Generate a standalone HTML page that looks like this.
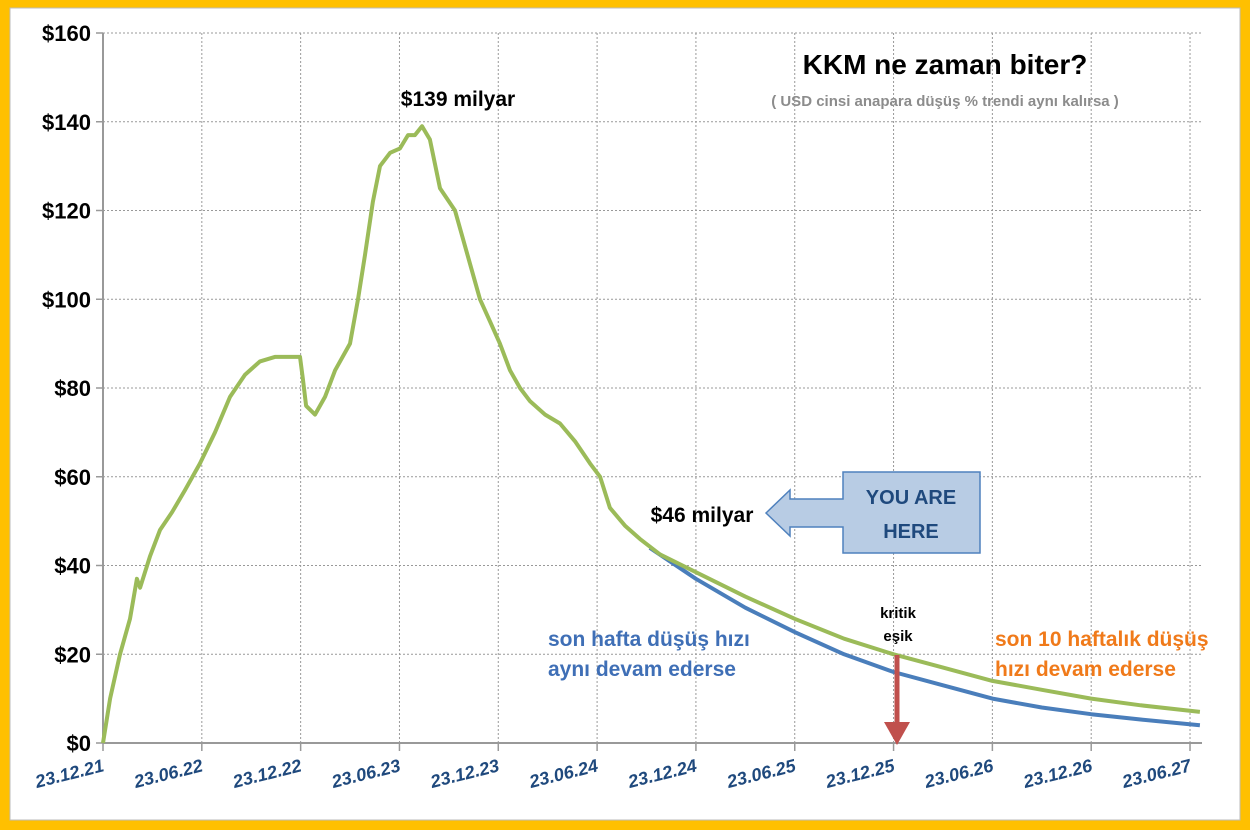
<!DOCTYPE html>
<html><head><meta charset="utf-8"><style>
html,body{margin:0;padding:0;background:#fff}
svg{display:block}
text{font-family:"Liberation Sans",sans-serif}
</style></head><body>
<svg id="chart" width="1250" height="830" viewBox="0 0 1250 830" xmlns="http://www.w3.org/2000/svg">
<rect x="0" y="0" width="1250" height="830" fill="#FFC000"/>
<rect x="10" y="8" width="1230" height="812" fill="#fff" stroke="#bbb"/>
<g id="grid"></g>
<g id="axes"></g>
<g id="series"></g>
<text x="945" y="74" text-anchor="middle" font-size="28" font-weight="bold" fill="#000">KKM ne zaman biter?</text>
<text x="945" y="106" text-anchor="middle" font-size="15" font-weight="bold" fill="#8c8c8c">( USD cinsi anapara düşüş  % trendi aynı kalırsa )</text>
<text x="458" y="106" text-anchor="middle" font-size="21" font-weight="bold" fill="#000">$139 milyar</text>
<text x="702" y="522" text-anchor="middle" font-size="21" font-weight="bold" fill="#000">$46 milyar</text>
<path d="M766,513 L790,490 L790,499 L843,499 L843,472 L980,472 L980,553 L843,553 L843,527 L790,527 L790,536 Z" fill="#b8cce4" stroke="#4f81bd" stroke-width="1.5"/>
<text x="911" y="504" text-anchor="middle" font-size="20" font-weight="bold" fill="#1f497d">YOU ARE</text>
<text x="911" y="538" text-anchor="middle" font-size="20" font-weight="bold" fill="#1f497d">HERE</text>
<text x="898" y="618" text-anchor="middle" font-size="15" font-weight="bold" fill="#000">kritik</text>
<text x="898" y="641" text-anchor="middle" font-size="15" font-weight="bold" fill="#000">eşik</text>
<line x1="897" y1="655" x2="897" y2="728" stroke="#c0504d" stroke-width="5"/>
<path d="M884,722 L910,722 L897,745 Z" fill="#c0504d"/>
<text x="548" y="646" font-size="21" font-weight="bold" fill="#3f6fb6">son hafta düşüş hızı</text>
<text x="548" y="676" font-size="21" font-weight="bold" fill="#3f6fb6">aynı devam ederse</text>
<text x="995" y="646" font-size="21" font-weight="bold" fill="#f07a1a">son 10 haftalık düşüş</text>
<text x="995" y="676" font-size="21" font-weight="bold" fill="#f07a1a">hızı devam ederse</text>
</svg>
<script>
const yTicks=[0,20,40,60,80,100,120,140,160];
const xTickLabels=["23.12.21","23.06.22","23.12.22","23.06.23","23.12.23","23.06.24","23.12.24","23.06.25","23.12.25","23.06.26","23.12.26","23.06.27"];
const xTickMonths=[0,6,12,18,24,30,36,42,48,54,60,66];
const actualMonths=[0,0.43,1.03,1.64,2.06,2.25,2.85,3.46,4.19,4.98,5.89,6.8,7.71,8.62,9.53,10.44,11.35,11.96,12.14,12.33,12.87,13.48,14.09,15.0,15.48,15.91,16.39,16.82,17.43,18.03,18.52,18.94,19.37,19.85,20.46,21.37,22.28,22.89,23.5,24.1,24.71,25.32,25.93,26.84,27.75,28.66,29.57,30.18,30.78,31.69,32.6,33.82];
const actualValues=[0,10,20,28,37,35,42,48,52,57,63,70,78,83,86,87,87,87,82,76,74,78,84,90,100,110,122,130,133,134,137,137,139,136,125,120,108,100,95,90,84,80,77,74,72,68,63,60,53,49,46,42.5];
const greenProjMonths=[33.82,36,39,42,45,48,51,54,57,60,63,66.6];
const greenProjValues=[42.5,38.5,33,28,23.5,20,17,14,12,10,8.5,7];
const blueProjMonths=[33.2,36,39,42,45,48,51,54,57,60,63,66.6];
const blueProjValues=[44,37,30.5,25,20,16,13,10,8,6.5,5.3,4];

const X0=103,PXM=16.47,Y0=743,PXV=4.4375,XR=1202;
const xs=m=>X0+m*PXM, ys=v=>Y0-v*PXV;
const NS="http://www.w3.org/2000/svg";
function mk(tag,attrs,parent){const e=document.createElementNS(NS,tag);for(const k in attrs)e.setAttribute(k,attrs[k]);parent.appendChild(e);return e;}
const grid=document.getElementById('grid'),axes=document.getElementById('axes'),series=document.getElementById('series');
yTicks.forEach(v=>{
  if(v>0){const l=mk('line',{x1:X0,x2:XR,y1:ys(v),y2:ys(v),stroke:'#999','stroke-width':1,'stroke-dasharray':'2,2'},grid);
  
  }
  const t=mk('line',{x1:X0-7,x2:X0,y1:ys(v),y2:ys(v),stroke:'#999','stroke-width':1.5},axes);
  
  
  const tx=mk('text',{x:X0-12,y:ys(v)+8,'text-anchor':'end','font-size':22,'font-weight':'bold',fill:'#000'},axes);
  tx.textContent='$'+v;
  
  
});
xTickMonths.forEach((m,i)=>{
  const x=xs(m);
  if(i>0){const l=mk('line',{x1:x,x2:x,y1:ys(160),y2:Y0,stroke:'#999','stroke-width':1,'stroke-dasharray':'2,2'},grid);
  
  }
  const t=mk('line',{x1:x,x2:x,y1:Y0,y2:Y0+8,stroke:'#999','stroke-width':1.5},axes);
  
  
  const tx=mk('text',{x:x+2,y:Y0+28,'text-anchor':'end','font-size':18,'font-weight':'bold','font-style':'italic',fill:'#1f497d',transform:`rotate(-14 ${x+2} ${Y0+28})`},axes);
  tx.textContent=xTickLabels[i];
  
  
});
const ya=mk('line',{x1:X0,x2:X0,y1:ys(160),y2:Y0,stroke:'#999','stroke-width':2},axes);


const xa=mk('line',{x1:X0,x2:XR,y1:Y0,y2:Y0,stroke:'#999','stroke-width':2},axes);


function pts(ms,vs){return ms.map((m,i)=>xs(m).toFixed(1)+','+ys(vs[i]).toFixed(1)).join(' ');}
const b=mk('polyline',{points:pts(blueProjMonths,blueProjValues),fill:'none',stroke:'#4a7ebb','stroke-width':4,'stroke-linejoin':'round'},series);


const g2=mk('polyline',{points:pts(greenProjMonths,greenProjValues),fill:'none',stroke:'#9bbb59','stroke-width':4,'stroke-linejoin':'round'},series);


const g=mk('polyline',{points:pts(actualMonths,actualValues),fill:'none',stroke:'#9bbb59','stroke-width':4,'stroke-linejoin':'round'},series);


</script>
</body></html>
